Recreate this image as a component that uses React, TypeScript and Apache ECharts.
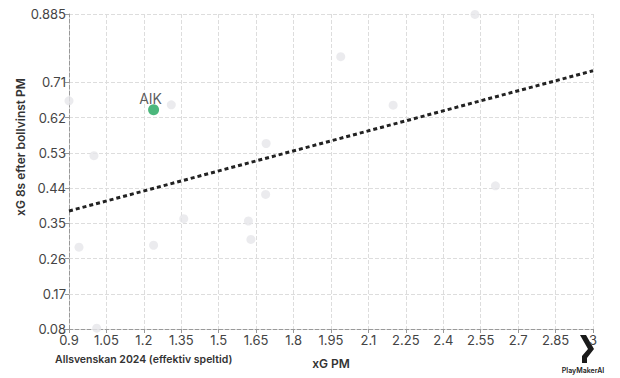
import React, { useEffect, useRef } from "react";
import * as echarts from "echarts";

const teamNames: string[] = [
  "AIK", "T2", "T3", "T4", "T5", "T6", "T7", "T8",
  "T9", "T10", "T11", "T12", "T13", "T14", "T15", "T16",
];
const xgPM: number[] = [
  1.239, 0.9, 1.0, 1.31, 1.69, 1.989, 2.199, 2.527,
  2.609, 0.94, 1.011, 1.239, 1.36, 1.619, 1.629, 1.688,
];
const xg8sPM: number[] = [
  0.6405, 0.663, 0.523, 0.653, 0.554, 0.776, 0.652, 0.884,
  0.446, 0.289, 0.082, 0.294, 0.362, 0.356, 0.309, 0.424,
];
const highlightTeam = "AIK";
const trendX: number[] = [0.9, 3];
const trendY: number[] = [0.3816, 0.74];
const yTicks: number[] = [0.08, 0.17, 0.26, 0.35, 0.44, 0.53, 0.62, 0.71, 0.885];

const FONT = "Inter, 'Liberation Sans', sans-serif";

export default function App() {
  const ref = useRef<HTMLDivElement>(null);
  useEffect(() => {
    document.body.style.margin = "0";
    if (!ref.current) return;
    const chart = echarts.init(ref.current, undefined, { renderer: "svg" });
    const others = teamNames
      .map((n, i) => ({ name: n, value: [xgPM[i], xg8sPM[i]] }))
      .filter((d) => d.name !== highlightTeam);
    const hi = teamNames
      .map((n, i) => ({ name: n, value: [xgPM[i], xg8sPM[i]] }))
      .filter((d) => d.name === highlightTeam);
    chart.setOption({
      animation: false,
      textStyle: { fontFamily: FONT },
      grid: { left: 69, right: 27, top: 14, bottom: 49 },
      xAxis: {
        type: "value",
        min: 0.9,
        max: 3,
        interval: 0.15,
        name: "xG PM",
        nameLocation: "middle",
        nameGap: 28,
        nameTextStyle: { color: "#333", fontSize: 12, fontWeight: 600, fontFamily: FONT },
        axisLine: { show: true, lineStyle: { color: "#999", type: "dashed", width: 1 } },
        axisTick: { show: true, length: 4, lineStyle: { color: "#999" } },
        axisLabel: { color: "#444", fontSize: 13, margin: 4, fontFamily: FONT },
        splitLine: { show: true, lineStyle: { color: "#ddd", type: "dashed" } },
      },
      yAxis: {
        type: "value",
        min: 0.08,
        max: 0.885,
        axisLine: { show: true, lineStyle: { color: "#999", type: "dashed", width: 1 } },
        axisTick: { show: true, length: 4, customValues: yTicks, lineStyle: { color: "#999" } },
        axisLabel: { color: "#444", fontSize: 13, margin: 3, customValues: yTicks, fontFamily: FONT },
        splitLine: { show: true, lineStyle: { color: "#ddd", type: "dashed" } },
      },
      graphic: [
        {
          type: "text",
          x: 20,
          y: 147,
          rotation: Math.PI / 2,
          style: {
            text: "xG 8s efter bollvinst PM",
            fill: "#333",
            font: `600 12px ${FONT}`,
            align: "center",
            verticalAlign: "middle",
          },
        },
        {
          type: "text",
          x: 55,
          y: 359,
          style: {
            text: "Allsvenskan 2024 (effektiv speltid)",
            fill: "#333",
            font: `600 10.5px ${FONT}`,
            align: "left",
            verticalAlign: "middle",
          },
        },
        {
          type: "polygon",
          x: 580,
          y: 335,
          shape: {
            points: [
              [0, 0], [6, 0], [14, 14], [7, 23], [7, 28], [2, 28], [2, 21], [8, 14],
            ],
          },
          style: { fill: "#1a1a1a" },
        },
        {
          type: "text",
          x: 583,
          y: 370,
          style: {
            text: "PlayMakerAI",
            fill: "#222",
            font: `600 7px ${FONT}`,
            align: "center",
            verticalAlign: "middle",
          },
        },
      ],
      series: [
        {
          type: "line",
          data: trendX.map((x, i) => [x, trendY[i]]),
          showSymbol: false,
          symbol: "none",
          lineStyle: { color: "#222", width: 3, type: [4, 3] },
          z: 3,
        },
        {
          type: "scatter",
          data: others,
          symbolSize: 9,
          itemStyle: { color: "#e6e6ea" },
          z: 2,
        },
        {
          type: "scatter",
          data: hi,
          symbolSize: 11,
          itemStyle: { color: "#1ea55b" },
          label: {
            show: true,
            position: "top",
            formatter: "{b}",
            color: "#333",
            fontSize: 14,
            distance: 0,
            offset: [-3, 1],
            fontFamily: FONT,
          },
          z: 5,
        },
      ],
    });
    return () => chart.dispose();
  }, []);
  return <div ref={ref} style={{ width: 620, height: 378 }} />;
}
